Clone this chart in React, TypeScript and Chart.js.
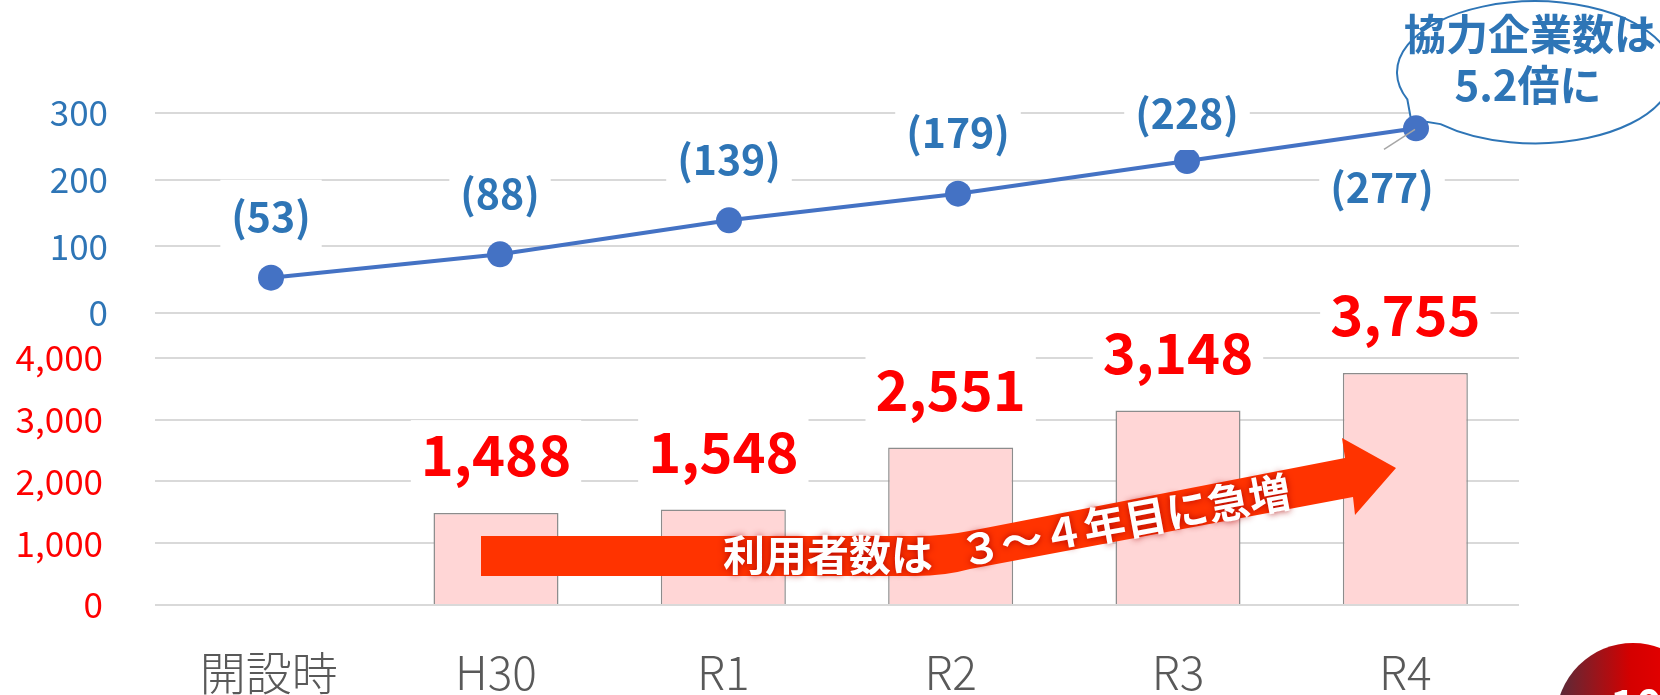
import React, { useEffect, useRef } from 'react';
import { Chart, registerables } from 'chart.js';

Chart.register(...registerables);

const JP = "'Noto Sans CJK JP', 'Noto Sans', sans-serif";
const JP_LIGHT = "'Noto Sans CJK JP Light', 'Noto Sans CJK JP', 'Noto Sans', sans-serif";

// ---- data ----
const categories = ['開設時', 'H30', 'R1', 'R2', 'R3', 'R4'];
const companyCounts = [53, 88, 139, 179, 228, 277];
const userCounts: (number | null)[] = [null, 1488, 1548, 2551, 3148, 3755];
const lineTickValues = [0, 100, 200, 300];
const barTickValues = [0, 1000, 2000, 3000, 4000];
const calloutLines = ['協力企業数は', '5.2倍に'];
const arrowTextFlat = '利用者数は';
const arrowTextSlant = '３～４年目に急増';
const pageNumber = '10';

// label placement relative to each point (style)
const lineLabelDx = [0, 0, 0, 0, 0, -34];
const lineLabelDy = [-61, -61, -61, -61, -48, 59];

const BLUE_TEXT = '#2E75B6';
const LINE_BLUE = '#4472C4';
const RED = '#FF0000';
const GRID = '#D9D9D9';

function fmt(n: number) {
  return n.toLocaleString('en-US');
}

export default function App() {
  const ref = useRef<HTMLCanvasElement>(null);

  useEffect(() => {
    const canvas = ref.current!;

    const overlay = {
      id: 'overlay',
      beforeDatasetsDraw(chart: any) {
        const ctx = chart.ctx as CanvasRenderingContext2D;
        // callout bubble
        const lineMeta = chart.getDatasetMeta(0);
        const last = lineMeta.data[lineMeta.data.length - 1];
        const px = last.x, py = last.y;
        const cx = px + 119, cy = py - 56, rx = 138, ry = 71;
        const a1 = (157.7 * Math.PI) / 180;
        const a2 = ((133.2 + 360) * Math.PI) / 180;
        ctx.save();
        ctx.beginPath();
        ctx.ellipse(cx, cy, rx, ry, 0, a1, a2, false);
        ctx.lineTo(px - 5, py - 9);
        ctx.closePath();
        ctx.fillStyle = '#FFFFFF';
        ctx.fill();
        ctx.lineWidth = 2;
        ctx.strokeStyle = BLUE_TEXT;
        ctx.stroke();
        ctx.fillStyle = BLUE_TEXT;
        ctx.font = `bold 42px ${JP}`;
        ctx.textAlign = 'center';
        ctx.textBaseline = 'middle';
        ctx.fillText(calloutLines[0], cx - 5, cy - 38);
        ctx.fillText(calloutLines[1], cx - 7, cy + 13);
        ctx.restore();
      },
      afterDatasetsDraw(chart: any) {
        const ctx = chart.ctx as CanvasRenderingContext2D;
        ctx.save();
        ctx.textAlign = 'center';
        ctx.textBaseline = 'middle';

        // line labels
        const lineMeta = chart.getDatasetMeta(0);
        ctx.font = `bold 41px ${JP}`;
        lineMeta.data.forEach((pt: any, i: number) => {
          const txt = `(${companyCounts[i]})`;
          const lx = pt.x + lineLabelDx[i];
          const ly = pt.y + lineLabelDy[i];
          const w = ctx.measureText(txt).width + 22;
          ctx.fillStyle = '#FFFFFF';
          ctx.fillRect(lx - w / 2, ly - 37, w, 74);
          if (lineLabelDx[i] !== 0) {
            ctx.strokeStyle = '#A6A6A6';
            ctx.lineWidth = 1.5;
            ctx.beginPath();
            ctx.moveTo(lx + 2, ly - 38);
            ctx.lineTo(pt.x - 1, pt.y + 1);
            ctx.stroke();
          }
          ctx.fillStyle = BLUE_TEXT;
          ctx.fillText(txt, lx, ly);
        });

        // bar labels
        const barMeta = chart.getDatasetMeta(1);
        ctx.font = `bold 56px ${JP}`;
        barMeta.data.forEach((bar: any, i: number) => {
          const v = userCounts[i];
          if (v == null) return;
          const txt = fmt(v);
          const lx = bar.x;
          const ly = bar.y - 58;
          const w = ctx.measureText(txt).width + 20;
          ctx.fillStyle = '#FFFFFF';
          ctx.fillRect(lx - w / 2, ly - 35, w, 70);
          ctx.fillStyle = RED;
          ctx.fillText(txt, lx, ly);
        });

        // red arrow
        ctx.beginPath();
        ctx.moveTo(481, 536);
        ctx.lineTo(915, 536);
        ctx.quadraticCurveTo(945, 536, 975, 530);
        ctx.lineTo(1345, 458);
        ctx.lineTo(1342, 438);
        ctx.lineTo(1396, 468);
        ctx.lineTo(1355, 515);
        ctx.lineTo(1353, 497);
        ctx.lineTo(970, 569);
        ctx.quadraticCurveTo(945, 576, 915, 576);
        ctx.lineTo(481, 576);
        ctx.closePath();
        ctx.fillStyle = '#FF3300';
        ctx.fill();

        ctx.shadowColor = 'rgba(170,0,0,0.9)';
        ctx.shadowBlur = 7;
        ctx.fillStyle = '#FFFFFF';
        ctx.font = `bold 42px ${JP}`;
        ctx.fillText(arrowTextFlat, 828, 555);
        ctx.save();
        ctx.translate(1125, 521);
        ctx.rotate((-10.5 * Math.PI) / 180);
        ctx.fillText(arrowTextSlant, 0, 0);
        ctx.restore();
        ctx.shadowBlur = 0;
        ctx.shadowColor = 'transparent';

        // page number badge
        const g = ctx.createLinearGradient(1560, 0, 1660, 0);
        g.addColorStop(0, '#5B2A38');
        g.addColorStop(0.7, '#D40000');
        g.addColorStop(1, '#E00000');
        ctx.beginPath();
        ctx.arc(1633, 720, 77, 0, Math.PI * 2);
        ctx.fillStyle = g;
        ctx.fill();
        ctx.fillStyle = '#FFFFFF';
        ctx.font = `bold 44px ${JP}`;
        ctx.textBaseline = 'alphabetic';
        ctx.fillText(pageNumber, 1636, 722);

        ctx.restore();
      },
    };

    const yFit = (s: any) => {
      s.width = 155;
      s.paddingTop = 0;
      s.paddingBottom = 0;
    };

    const linePoints = companyCounts.map((v, i) => ({ x: i, y: v }));

    const chart = new Chart(canvas, {
      type: 'bar',
      data: {
        labels: categories,
        datasets: [
          {
            type: 'line',
            label: '協力企業数',
            data: linePoints,
            xAxisID: 'xLine',
            yAxisID: 'yLine',
            borderColor: LINE_BLUE,
            borderWidth: 4,
            pointRadius: 13,
            pointBackgroundColor: LINE_BLUE,
            pointBorderWidth: 0,
            tension: 0,
            clip: false,
          } as any,
          {
            type: 'bar',
            label: '利用者数',
            data: userCounts,
            xAxisID: 'x',
            yAxisID: 'yBar',
            backgroundColor: '#FFD6D6',
            borderColor: '#8C8C8C',
            borderWidth: 1.5,
            barPercentage: 0.55,
            categoryPercentage: 1,
            grouped: false,
          } as any,
        ],
      },
      options: {
        responsive: false,
        animation: false,
        events: [],
        layout: { padding: { left: 0, right: 141, top: 20, bottom: 0 } },
        plugins: {
          legend: { display: false },
          tooltip: { enabled: false },
        },
        scales: {
          x: {
            type: 'category',
            offset: true,
            grid: { display: false },
            border: { display: false },
            ticks: {
              color: '#595959',
              font: { family: JP_LIGHT, size: 46, weight: '300' as any },
              padding: 32,
              maxRotation: 0,
            },
            afterFit: (s: any) => {
              s.height = 90;
            },
          },
          xLine: {
            type: 'linear',
            position: 'bottom',
            display: false,
            offset: false,
            bounds: 'data',
            min: -0.5066,
            max: 5.4498,
            grid: { display: false, offset: false },
          },
          yBar: {
            type: 'linear',
            position: 'left',
            stack: 'v',
            stackWeight: 270,
            min: 0,
            max: 4372,
            afterBuildTicks: (s: any) => {
              s.ticks = barTickValues.map((v) => ({ value: v }));
            },
            grid: { color: GRID, lineWidth: 2, drawTicks: false },
            border: { display: false },
            ticks: {
              color: RED,
              font: { family: JP, size: 35 },
              padding: 52,
              autoSkip: false,
              callback: (v: any) => fmt(Number(v)),
            },
            afterFit: yFit,
          },
          yLine: {
            type: 'linear',
            position: 'left',
            stack: 'v',
            stackWeight: 315,
            min: -33,
            max: 439.5,
            afterBuildTicks: (s: any) => {
              s.ticks = lineTickValues.map((v) => ({ value: v }));
            },
            grid: { color: GRID, lineWidth: 2, drawTicks: false },
            border: { display: false },
            ticks: {
              color: BLUE_TEXT,
              font: { family: JP, size: 35 },
              padding: 47,
              autoSkip: false,
              callback: (v: any) => String(v),
            },
            afterFit: yFit,
          },
        } as any,
      },
      plugins: [overlay],
    });

    return () => chart.destroy();
  }, []);

  return (
    <div
      style={{
        position: 'fixed',
        left: 0,
        top: 0,
        width: 1660,
        height: 695,
        background: '#FFFFFF',
        overflow: 'hidden',
      }}
    >
      <canvas ref={ref} width={1660} height={695} style={{ display: 'block', width: 1660, height: 695 }} />
    </div>
  );
}
